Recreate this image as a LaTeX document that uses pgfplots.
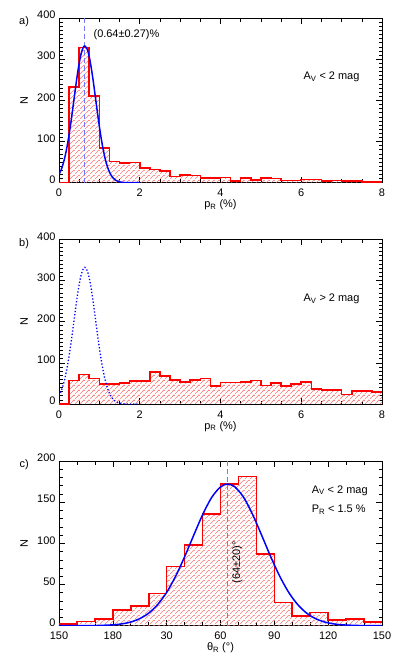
\documentclass[border=0pt]{standalone}
\usepackage{fontspec}
\setmainfont{Liberation Sans}
\usepackage{pgfplots}
\usepackage{pgfplotstable}
\pgfplotsset{compat=1.18}
\usetikzlibrary{patterns.meta}
\definecolor{hatch}{RGB}{255,120,120}
\definecolor{dashcol}{RGB}{120,120,255}

\tikzdeclarepattern{
  name=hatchred,
  type=colored,
  bottom left={(0bp,0bp)},
  top right={(5bp,5bp)},
  tile size={(5bp,5bp)},
  code={\draw[hatch, line width=0.75bp] (-0.6bp,-0.6bp) -- (5.6bp,5.6bp);}
}

\pgfplotstableread{
x y
0 0
0.25 233
0.5 328
0.75 210
1.0 84
1.25 51
1.5 48
1.75 49
2.0 35
2.25 32
2.5 29
2.75 15
3.0 19
3.25 17
3.5 12
3.75 12
4.0 13
4.25 4
4.5 11
4.75 7
5.0 11
5.25 10
5.5 5
5.75 5
6.0 8
6.25 8
6.5 4
6.75 5
7.0 4
7.25 4
7.5 1
7.75 1
8.0 1
}\histA

\pgfplotstableread{
x y
0 0
0.25 57
0.5 72
0.75 62
1.0 48
1.25 49
1.5 51
1.75 56
2.0 56
2.25 78
2.5 68
2.75 58
3.0 54
3.25 58
3.5 62
3.75 43
4.0 52
4.25 52
4.5 54
4.75 57
5.0 45
5.25 51
5.5 44
5.75 49
6.0 53
6.25 36
6.5 34
6.75 34
7.0 23
7.25 31
7.5 32
7.75 29
8.0 29
}\histB

\pgfplotstableread{
x y
-30 2.4
-20 5
-10 8
0 19
10 24
20 39
30 72
40 98
50 136
60 172
70 181
80 87
90 28
100 12
110 16
120 7
130 8
140 4.5
150 4.5
}\histC

\pgfplotstableread{
x y
0 20.0
0.05 30.5
0.10 44.9
0.15 64.0
0.20 88.0
0.25 117.0
0.30 150.2
0.35 186.5
0.40 223.6
0.45 259.2
0.50 290.2
0.55 314.0
0.60 328.4
0.64 332.0
0.70 323.9
0.75 305.5
0.80 278.5
0.85 245.4
0.90 208.8
0.95 171.7
1.00 136.5
1.05 104.8
1.10 77.8
1.15 55.8
1.20 38.6
1.25 25.9
1.30 16.7
1.35 10.5
1.40 6.3
1.45 3.7
1.50 2.1
1.55 1.1
1.60 0.6
1.70 0.15
1.80 0.03
2.00 0
}\gaussP

\pgfplotstableread{
x y
-30 0
-20 0.03
-10 0.18
0 1.03
5 2.22
10 4.49
15 8.56
20 15.3
25 25.7
30 40.5
35 60.1
40 83.7
45 109.5
50 134.6
55 155.5
60 168.6
64 172
68 168.6
73 155.5
78 134.6
83 109.5
88 83.7
93 60.1
98 40.5
103 25.7
108 15.3
113 8.56
118 4.49
123 2.22
128 1.03
138 0.18
148 0.03
150 0
}\gaussT

\pgfplotsset{
  panel/.style={
    scale only axis,
    width=323bp, height=164.7bp,
    clip mode=individual,
    axis line style={line width=0.8pt},
    tick style={black, line width=0.6pt},
    major tick length=6bp, minor tick length=3.5bp,
    tick align=inside,
    /pgf/number format/assume math mode=true,
    ticklabel style={font=\fontsize{11}{13}\selectfont},
    label style={font=\fontsize{11}{13}\selectfont},
    yticklabel style={yshift=3bp},
    xticklabel style={yshift=-3bp},
    ylabel={N},
    ylabel style={at={(axis description cs:-0.108,0.5)}, anchor=center},
    xlabel style={at={(axis description cs:0.5,-0.135)}, anchor=center},
  },
  hist/.style={draw=none, const plot, pattern=hatchred},
  histline/.style={red, line width=1.6pt, const plot},
  vdash/.style={dashcol, line width=0.7pt, dash pattern=on 5bp off 3bp},
}

\begin{document}
\begin{tikzpicture}[font=\fontsize{11}{13}\selectfont]
\useasboundingbox (0,0) rectangle (399bp,-664bp);

% Panel a
\begin{axis}[panel, at={(59bp,-18bp)}, anchor=north west,
  xmin=0, xmax=8, ymin=0, ymax=400,
  xtick={0,2,...,8}, minor x tick num=3,
  ytick={0,100,...,400}, minor y tick num=9,
  xlabel={p\textsubscript{R} (\%)}]
\addplot[hist] table {\histA} \closedcycle;
\addplot[histline] table {\histA};
\addplot[vdash] coordinates {(0.64,0) (0.64,400)};
\addplot[blue, line width=1.5pt, smooth] table {\gaussP};
\node[anchor=west] at (axis cs:0.77,359) {(0.64±0.27)\%};
\node[anchor=west] at (axis cs:5.97,257) {A\textsubscript{V} < 2 mag};
\node at (rel axis cs:-0.108,0.976) {a)};
\end{axis}

% Panel b
\begin{axis}[panel, at={(59bp,-239.3bp)}, anchor=north west,
  xmin=0, xmax=8, ymin=0, ymax=400,
  xtick={0,2,...,8}, minor x tick num=3,
  ytick={0,100,...,400}, minor y tick num=9,
  xlabel={p\textsubscript{R} (\%)}]
\addplot[hist] table {\histB} \closedcycle;
\addplot[histline] table {\histB};
\addplot[blue, line width=1.3pt, dotted, smooth] table {\gaussP};
\node[anchor=west] at (axis cs:5.97,255) {A\textsubscript{V} > 2 mag};
\node at (rel axis cs:-0.108,0.976) {b)};
\end{axis}

% Panel c
\begin{axis}[panel, at={(59bp,-461bp)}, anchor=north west,
  xmin=-30, xmax=150, ymin=0, ymax=200,
  xtick={-30,0,30,60,90,120,150},
  xticklabels={150,180,30,60,90,120,150},
  minor x tick num=2,
  ytick={0,50,...,200}, minor y tick num=4,
  xlabel={θ\textsubscript{R} (°)}]
\addplot[hist] table {\histC} \closedcycle;
\addplot[histline] table {\histC};
\addplot[vdash] coordinates {(64,0) (64,200)};
\addplot[blue, line width=1.5pt, smooth] table {\gaussT};
\node[anchor=west] at (axis cs:108.9,164) {A\textsubscript{V} < 2 mag};
\node[anchor=west] at (axis cs:108.9,141) {P\textsubscript{R} < 1.5 \%};
\node[rotate=90] at (axis cs:69.3,77) {(64±20)°};
\node at (rel axis cs:-0.108,0.976) {c)};
\end{axis}
\end{tikzpicture}
\end{document}
